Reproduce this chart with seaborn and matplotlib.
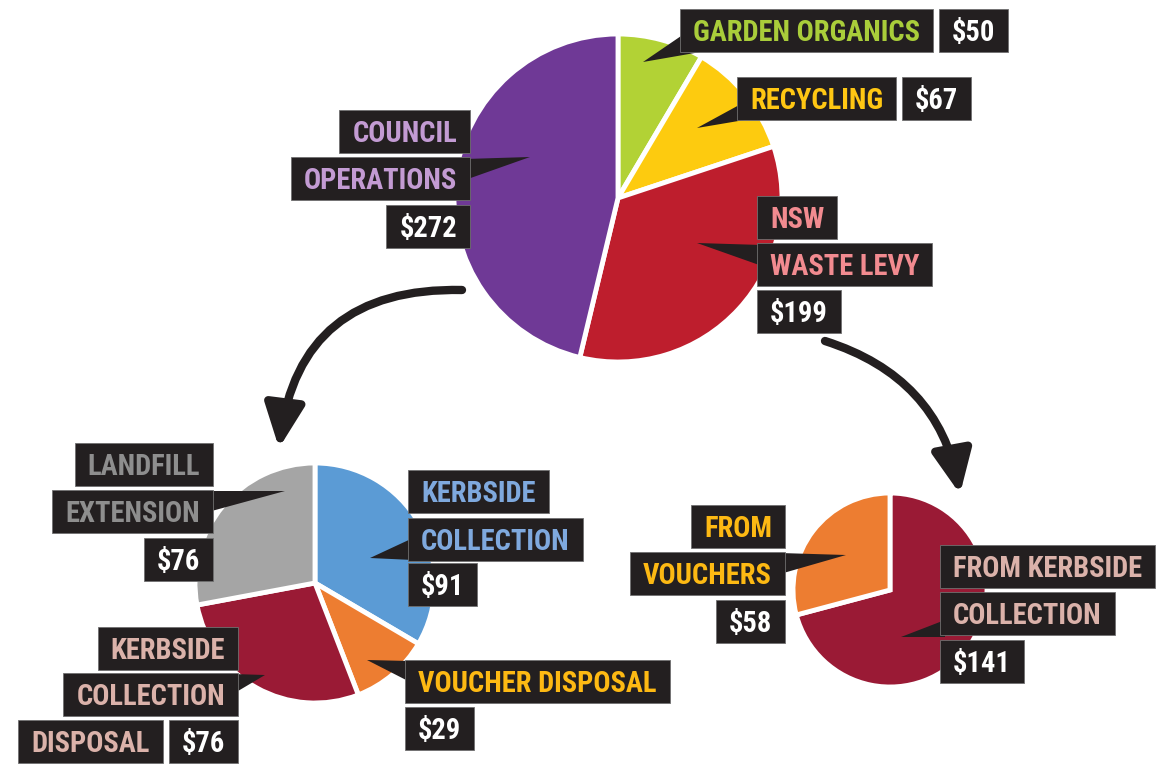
#Three pie charts of where the waste money goes
#Top pie splits into the two bottom ones with curved arrows
import matplotlib
matplotlib.use("Agg")
import matplotlib.pyplot as plt
from matplotlib import font_manager
from matplotlib.patches import Rectangle, Polygon, FancyArrowPatch
import seaborn as sns

#Datos
top_names = ["GARDEN ORGANICS", "RECYCLING", "NSW WASTE LEVY", "COUNCIL OPERATIONS"]
top_values = [50, 67, 199, 272]

left_names = ["KERBSIDE COLLECTION", "VOUCHER DISPOSAL", "KERBSIDE COLLECTION DISPOSAL", "LANDFILL EXTENSION"]
left_values = [91, 29, 76, 76]

right_names = ["FROM KERBSIDE COLLECTION", "FROM VOUCHERS"]
right_values = [141, 58]

#Colores
top_colors = ["#b2d235", "#fdcb0f", "#be1e2d", "#6f3996"]
top_text = ["#a9cd3a", "#ffc713", "#f28b90", "#c39bd3"]
left_colors = ["#5b9bd5", "#ed7d31", "#9a1a35", "#a5a5a5"]
left_text = ["#7fa9de", "#fdb913", "#dbb2aa", "#8e8e8e"]
right_colors = ["#9a1a35", "#ed7d31"]
right_text = ["#dbb2aa", "#fdb913"]
BOX = "#231f20"

W, H = 1160, 764

def Y(y):
    #image coords (top origin) -> axes coords
    return H - y

#Busco una fuente estrecha
ttf = font_manager.fontManager.ttflist
names = {f.name for f in ttf}
font_family = "DejaVu Sans"
font_stretch = "normal"
for cand in ["Liberation Sans Narrow", "Roboto Condensed", "Open Sans Condensed"]:
    if cand in names:
        font_family = cand
        break
else:
    if any(f.name == "DejaVu Sans" and f.stretch == "condensed" for f in ttf):
        font_stretch = "condensed"

sns.set_theme(style="white")
plt.rcParams["font.family"] = [font_family, "DejaVu Sans"]

fig = plt.figure(figsize=(W / 100, H / 100), dpi=100)
ax = fig.add_axes([0, 0, 1, 1])

wp = dict(edgecolor="white", linewidth=3.5)
ax.pie(top_values, colors=top_colors, startangle=90, counterclock=False,
       center=(618, Y(198)), radius=164, wedgeprops=wp)
ax.pie(left_values, colors=left_colors, startangle=90, counterclock=False,
       center=(315, Y(583)), radius=120, wedgeprops=wp)
ax.pie(right_values, colors=right_colors, startangle=90, counterclock=False,
       center=(890, Y(590)), radius=97, wedgeprops=wp)

ax.set_xlim(0, W)
ax.set_ylim(0, H)
ax.set_aspect("equal")
ax.axis("off")

#Flechas curvas
for a, b, rad in [((462, 290), (279, 448), 0.45), ((825, 341), (960, 494), -0.3)]:
    arr = FancyArrowPatch((a[0], Y(a[1])), (b[0], Y(b[1])),
                          connectionstyle="arc3,rad=%s" % rad,
                          arrowstyle="-|>,head_length=1.3,head_width=0.6",
                          mutation_scale=20, lw=6, color=BOX,
                          shrinkA=0, shrinkB=0, zorder=2)
    ax.add_patch(arr)

#Tamaño de letra: que "GARDEN ORGANICS" mida lo mismo que en el original
renderer = fig.canvas.get_renderer()
tmp = ax.text(0, 0, "GARDEN ORGANICS", fontsize=20, weight="bold", fontstretch=font_stretch)
fs = 1.05 * 20 * 217 / tmp.get_window_extent(renderer).width
tmp.remove()
cap = 0.7 * fs * 100 / 72
PAD = 13
GAP = 6
BH = 43

#Etiquetas: (pie, index, anchor x, side, row tops, words per row, value inline, pointer)
labels = [
    ("top", 0, 680, "L", [9], [2], True, [(684, 34), (712, 50), (643, 62)]),
    ("top", 1, 737, "L", [77], [1], True, [(741, 104), (762, 117), (697, 128)]),
    ("top", 2, 757, "L", [196, 243, 290], [1, 2], False, [(762, 245), (762, 266), (697, 243)]),
    ("top", 3, 470, "R", [110, 157, 205], [1, 1], False, [(465, 159), (465, 180), (530, 157)]),
    ("left", 0, 408, "L", [470, 518, 563], [1, 1], False, [(413, 538), (413, 560), (370, 558)]),
    ("left", 1, 405, "L", [660, 707], [2], False, [(410, 661), (410, 682), (367, 660)]),
    ("left", 2, 238, "R", [627, 673, 720], [1, 1, 1], True, [(233, 674), (233, 694), (265, 675)]),
    ("left", 3, 213, "R", [443, 490, 538], [1, 1], False, [(208, 491), (208, 512), (285, 491)]),
    ("right", 0, 940, "L", [545, 592, 640], [2, 1], False, [(945, 620), (945, 637), (901, 637)]),
    ("right", 1, 785, "R", [505, 552, 600], [1, 1], False, [(780, 553), (780, 574), (846, 555)]),
]
pies = {
    "top": (top_names, top_values, top_text),
    "left": (left_names, left_values, left_text),
    "right": (right_names, right_values, right_text),
}

for pie, i, x0, side, tops, counts, inline, ptr in labels:
    pnames, pvalues, ptext = pies[pie]
    words = pnames[i].split()
    rows = []
    k = 0
    for c in counts:
        rows.append([(" ".join(words[k:k + c]), ptext[i])])
        k += c
    val = ("$%d" % pvalues[i], "white")
    if inline:
        rows[-1].append(val)
    else:
        rows.append([val])

    #Triangulo que apunta a la porcion
    ax.add_patch(Polygon([(px, Y(py)) for px, py in ptr], closed=True,
                         facecolor=BOX, edgecolor="none", zorder=3))

    for top, items in zip(tops, rows):
        cur = x0
        seq = items if side == "L" else items[::-1]
        for txt, col in seq:
            t = ax.text(0, 0, txt, fontsize=fs, weight="bold", fontstretch=font_stretch,
                        color=col, ha="center", va="baseline", zorder=5)
            w = t.get_window_extent(renderer).width + 2 * PAD
            bx = cur if side == "L" else cur - w
            ax.add_patch(Rectangle((bx, Y(top + BH)), w, BH, facecolor=BOX,
                                   edgecolor="#707070", linewidth=0.6, zorder=4))
            t.set_position((bx + w / 2, Y(top + BH / 2) - cap / 2))
            cur = cur + w + GAP if side == "L" else cur - w - GAP

fig.savefig("out.png", dpi=100, facecolor="white")
